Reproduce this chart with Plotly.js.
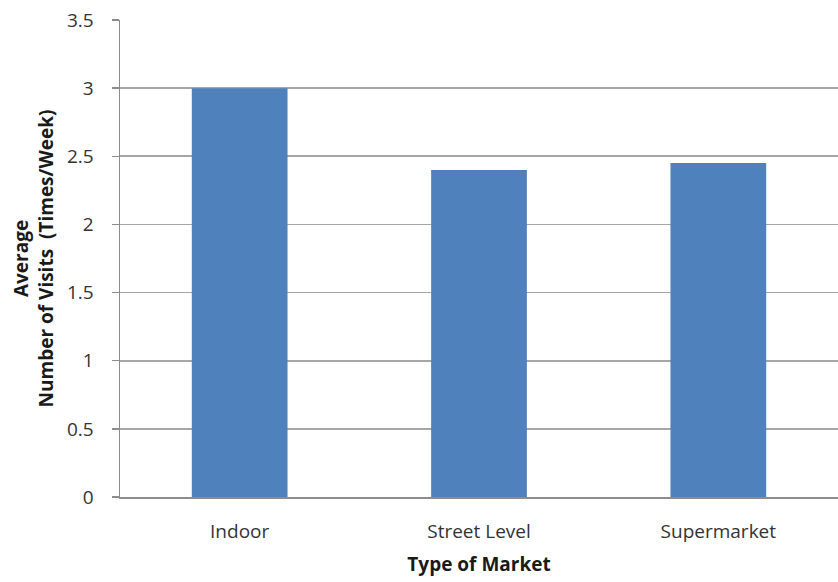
<!DOCTYPE html>
<html>
<head>
<meta charset="utf-8">
<script src="https://cdn.plot.ly/plotly-3.0.1.min.js"></script>
<style>html,body{margin:0;padding:0;background:#fff;}</style>
</head>
<body>
<div id="chart" style="width:838px;height:582px;"></div>
<script>
const categories = ["Indoor", "Street Level", "Supermarket"];
const avgVisits = [3.0, 2.4, 2.45];
const yTickVals = [0, 0.5, 1, 1.5, 2, 2.5, 3, 3.5];
const yTickText = ["0", "0.5", "1", "1.5", "2", "2.5", "3", "3.5"];

const fontFam = "'Open Sans', 'Noto Sans', sans-serif";

Plotly.newPlot("chart", [{
  type: "bar",
  x: categories,
  y: avgVisits,
  width: 0.4,
  marker: {color: "#4f81bd", line: {width: 0}},
  hoverinfo: "x+y"
}], {
  width: 838,
  height: 582,
  margin: {l: 120, r: 0, t: 20, b: 85},
  paper_bgcolor: "#fff",
  plot_bgcolor: "#fff",
  showlegend: false,
  font: {family: fontFam, color: "#333", size: 19},
  xaxis: {
    type: "category",
    showline: true,
    linecolor: "#8c8c8c",
    linewidth: 1.5,
    ticks: "",
    showgrid: false,
    tickfont: {family: fontFam, size: 19, color: "#333"},
    ticklabelstandoff: 17,
    title: {text: "<b>Type of Market</b>", font: {family: fontFam, size: 19, color: "#1a1a1a"}, standoff: 14}
  },
  yaxis: {
    range: [0, 3.5],
    tickvals: yTickVals,
    ticktext: yTickText,
    showline: true,
    linecolor: "#8c8c8c",
    linewidth: 1.5,
    ticks: "outside",
    ticklen: 7,
    tickcolor: "#8c8c8c",
    tickwidth: 1.5,
    showgrid: true,
    gridcolor: "#a6a6a6",
    gridwidth: 1.8,
    zeroline: false,
    tickfont: {family: fontFam, size: 19, color: "#333"},
    ticklabelstandoff: 14,
    title: {text: "<b>Average<br>Number of Visits  (Times/Week)</b>", font: {family: fontFam, size: 19, color: "#1a1a1a"}, standoff: 8}
  },
  bargap: 0.6
}, {displayModeBar: false, staticPlot: true});
</script>
</body>
</html>
